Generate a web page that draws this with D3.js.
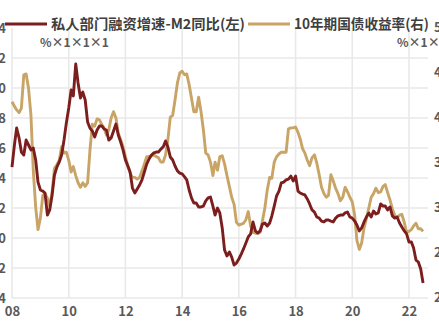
<!DOCTYPE html>
<html>
<head>
<meta charset="utf-8">
<script src="https://cdn.jsdelivr.net/npm/d3@7"></script>
<style>
  html, body { margin: 0; padding: 0; background: #fff; overflow: hidden; }
  svg { display: block; }
  text { font-family: "Noto Sans CJK SC", "Noto Sans", sans-serif; }
</style>
</head>
<body>
<script>
// Monthly series, starting January 2008
const startMonth = "2008-01";

// 私人部门融资增速-M2同比 (%, left axis)
const privateMinusM2 = [
  4.73, 6.2, 7.33, 6.67, 5.73, 5.53, 6.53, 6.2, 5.87, 6.0, 5.2, 3.73,
  3.2, 3.13, 3.0, 1.53, 1.87, 2.87, 4.2, 4.73, 5.07, 5.53, 6.53, 7.67,
  8.67, 9.87, 9.47, 11.6, 10.33, 9.33, 9.73, 9.2, 7.73, 7.33, 7.13, 6.73,
  7.2, 7.47, 7.47, 7.27, 7.2, 6.53, 6.67, 7.13, 7.6, 6.87, 6.4, 5.87,
  5.2, 4.8, 4.4, 3.33, 3.0, 3.27, 3.53, 3.87, 4.4, 4.93, 5.27, 5.53,
  5.67, 5.73, 5.73, 5.93, 6.07, 6.47, 6.07, 5.4, 5.2, 4.8, 4.47, 4.33,
  4.27, 4.07, 3.87, 3.2, 2.67, 2.33, 2.33, 2.07, 2.07, 2.13, 2.47, 2.67,
  2.73, 2.13, 1.53, 2.0, 1.67, 0.67, -0.8, -1.2, -0.93, -1.27, -1.8, -1.67,
  -1.4, -1.07, -0.73, -0.33, 0.07, 0.27, 1.07, 0.47, 0.33, 0.47, 0.93, 1.0,
  0.8, 1.0, 1.47, 2.13, 2.8, 3.13, 3.67, 3.73, 3.87, 3.93, 4.13, 3.8,
  4.13, 3.13, 3.0, 2.93, 2.87, 2.6, 2.27, 1.87, 1.73, 1.4, 1.33, 1.13,
  1.07, 1.2, 1.2, 1.13, 1.07, 1.33, 1.47, 1.53, 1.53, 1.67, 1.73, 1.4,
  1.33, 1.13, 0.87, 0.47, 0.67, 1.07, 1.4, 1.67, 1.4, 1.8, 1.6, 1.67,
  2.27, 2.13, 2.13, 1.87, 2.07, 1.47, 1.33, 1.4, 1.0, 0.73, 0.47, 0.27,
  -0.27, -0.27, -0.67, -1.47, -1.6, -2.07, -3.0
];

// 10年期国债收益率 (%, right axis)
const bondYield10y = [
  4.18, 4.13, 4.09, 4.06, 4.11, 4.48, 4.49, 4.33, 4.03, 3.42, 3.01, 2.76,
  2.89, 3.14, 3.16, 3.11, 3.02, 3.18, 3.44, 3.48, 3.53, 3.68, 3.61, 3.62,
  3.53, 3.40, 3.46, 3.36, 3.28, 3.23, 3.28, 3.24, 3.28, 3.64, 3.93, 3.91,
  3.99, 3.98, 3.93, 3.89, 3.81, 3.87, 4.0, 4.07, 4.0, 3.83, 3.76, 3.68,
  3.57, 3.47, 3.39, 3.34, 3.34, 3.32, 3.34, 3.41, 3.49, 3.57, 3.57, 3.58,
  3.59, 3.57, 3.56, 3.51, 3.51, 3.59, 3.76, 4.01, 4.03, 4.2, 4.39, 4.5,
  4.52, 4.48, 4.49, 4.37, 4.22, 4.07, 4.07, 4.23, 4.07, 3.87, 3.61, 3.59,
  3.51, 3.36, 3.51, 3.42, 3.57, 3.58, 3.49, 3.36, 3.24, 3.12, 3.04, 2.84,
  2.81, 2.82, 2.83, 2.87, 2.96, 2.80, 2.73, 2.72, 2.72, 2.73, 2.86, 3.0,
  3.2, 3.34, 3.33, 3.51, 3.57, 3.6, 3.62, 3.62, 3.62, 3.88, 3.89, 3.89,
  3.9, 3.84, 3.77, 3.66, 3.61, 3.53, 3.47, 3.56, 3.59, 3.5, 3.37, 3.23,
  3.16, 3.12, 3.14, 3.37, 3.3, 3.22, 3.16, 3.08, 3.12, 3.23, 3.18, 3.12,
  3.07, 2.92, 2.64, 2.54, 2.61, 2.78, 2.88, 3.0, 3.12, 3.16, 3.22, 3.17,
  3.18, 3.24, 3.26, 3.17, 3.09, 2.99, 2.92, 2.89, 2.92, 2.93, 2.84, 2.73,
  2.74, 2.76, 2.8, 2.83, 2.77, 2.77, 2.74
];

const leftTicks = [14, 12, 10, 8, 6, 4, 2, 0, -2, -4];
const rightTicks = [5.0, 4.5, 4.0, 3.5, 3.0, 2.5, 2.0];
const yearTicks = ["08", "10", "12", "14", "16", "18", "20", "22"];
const legendLabels = ["私人部门融资增速-M2同比(左)", "10年期国债收益率(右)"];
const unitLabel = "%×1×1×1";

const W = 439, H = 330;
const colRed = "#7c1e1e", colTan = "#c8a466";
const gridCol = "#e9e9e9", textCol = "#595959", legendCol = "#3f3f3f";

const svg = d3.select("body").append("svg")
  .attr("width", W).attr("height", H);

const parseMonth = d3.timeParse("%Y-%m");
const t0 = parseMonth(startMonth);
const dates = privateMinusM2.map((_, i) => d3.timeMonth.offset(t0, i));

const x = d3.scaleTime()
  .domain([new Date(2008, 0, 1), new Date(2022, 0, 1)])
  .range([12, 409]);
const yL = d3.scaleLinear().domain([-4, 14]).range([298, 28]);
const yR = d3.scaleLinear().domain([2, 5]).range([298, 28]);

const plotRight = 428;

// Horizontal grid (left-axis ticks, top line left open)
svg.append("g").selectAll("line")
  .data(leftTicks.filter(v => v !== 14))
  .join("line")
  .attr("x1", 12).attr("x2", plotRight)
  .attr("y1", d => yL(d)).attr("y2", d => yL(d))
  .attr("stroke", gridCol).attr("stroke-width", 1.6);

// Vertical grid at each labelled year
const yearDates = yearTicks.map(s => new Date(2000 + (+s), 0, 1));
svg.append("g").selectAll("line")
  .data(yearDates)
  .join("line")
  .attr("x1", d => x(d)).attr("x2", d => x(d))
  .attr("y1", 28).attr("y2", 298)
  .attr("stroke", gridCol).attr("stroke-width", 1.6);

// Left axis labels
const axL = svg.append("g").attr("transform", "translate(6,0)")
  .call(d3.axisLeft(yL).tickValues(leftTicks).tickSize(0).tickPadding(0).tickFormat(d3.format("d")));
axL.select(".domain").remove();
axL.selectAll("text")
  .attr("fill", textCol).attr("font-size", 13).attr("font-weight", 700)
  .attr("dy", "0.36em");

// Right axis labels
const axR = svg.append("g").attr("transform", "translate(434,0)")
  .call(d3.axisRight(yR).tickValues(rightTicks).tickSize(0).tickPadding(0).tickFormat(d3.format(".1f")));
axR.select(".domain").remove();
axR.selectAll("text")
  .attr("fill", textCol).attr("font-size", 13).attr("font-weight", 700)
  .attr("dy", "0.3em");

// Bottom axis labels
const axB = svg.append("g").attr("transform", "translate(0,298)")
  .call(d3.axisBottom(x).tickValues(yearDates).tickSize(0).tickPadding(10)
    .tickFormat((d, i) => yearTicks[i]));
axB.select(".domain").remove();
axB.selectAll("text")
  .attr("fill", textCol).attr("font-size", 13).attr("font-weight", 700)
  .attr("dy", "0.6em");

// Series lines
const lineL = d3.line().x((d, i) => x(dates[i])).y(d => yL(d));
const lineR = d3.line().x((d, i) => x(dates[i])).y(d => yR(d));

svg.append("path").datum(bondYield10y)
  .attr("d", lineR).attr("fill", "none")
  .attr("stroke", colTan).attr("stroke-width", 2.9)
  .attr("stroke-linejoin", "round");

svg.append("path").datum(privateMinusM2)
  .attr("d", lineL).attr("fill", "none")
  .attr("stroke", colRed).attr("stroke-width", 2.9)
  .attr("stroke-linejoin", "round");

// Legend
const legend = svg.append("g");
const legendItems = [
  { label: legendLabels[0], color: colRed, x0: 5, w: 194 },
  { label: legendLabels[1], color: colTan, x0: 248, w: 135 }
];
legendItems.forEach(it => {
  legend.append("line")
    .attr("x1", it.x0).attr("x2", it.x0 + 42)
    .attr("y1", 24).attr("y2", 24)
    .attr("stroke", it.color).attr("stroke-width", 3);
  legend.append("text")
    .attr("x", it.x0 + 46).attr("y", 24).attr("dy", "0.36em")
    .attr("fill", legendCol).attr("font-size", 14).attr("font-weight", 700)
    .attr("textLength", it.w).attr("lengthAdjust", "spacingAndGlyphs")
    .text(it.label);
});

// Unit labels beneath the legend
svg.append("text").attr("x", 40).attr("y", 43).attr("dy", "0.36em")
  .attr("fill", textCol).attr("font-size", 12).attr("font-weight", 700)
  .text(unitLabel);
svg.append("text").attr("x", 397).attr("y", 43).attr("dy", "0.36em")
  .attr("fill", textCol).attr("font-size", 12).attr("font-weight", 700)
  .text(unitLabel);
</script>
</body>
</html>
